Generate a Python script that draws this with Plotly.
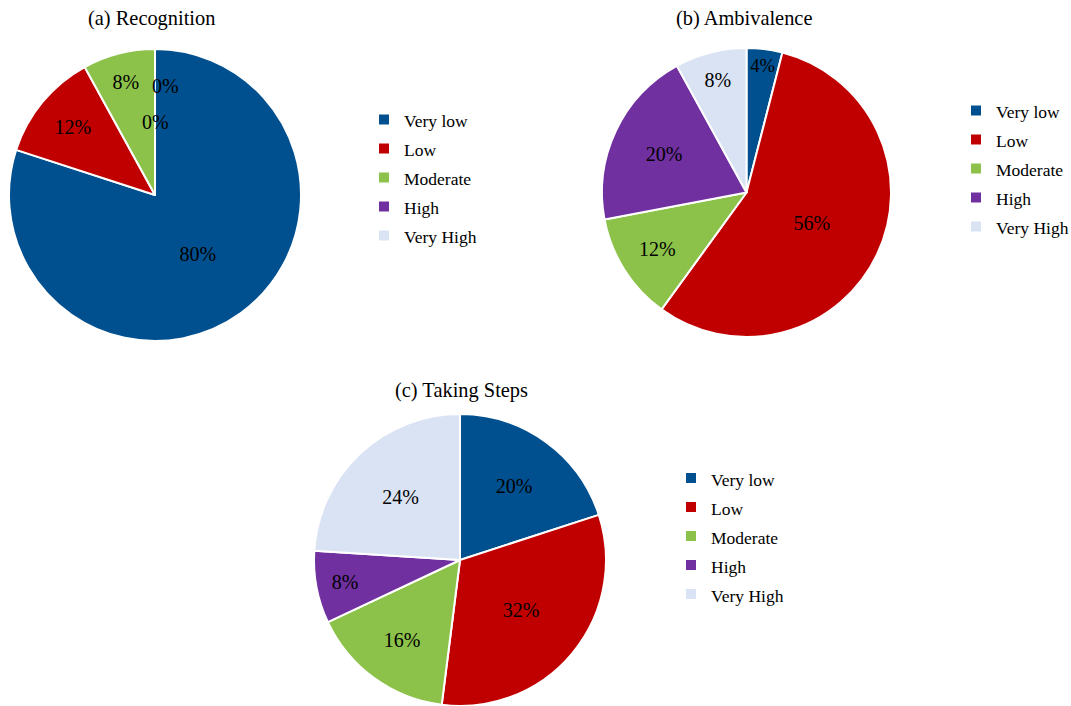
import plotly.graph_objects as go

categories = ["Very low", "Low", "Moderate", "High", "Very High"]
recognition = [80, 12, 8, 0, 0]
ambivalence = [4, 56, 12, 20, 8]
taking_steps = [20, 32, 16, 8, 24]
titles = ["(a) Recognition", "(b) Ambivalence", "(c) Taking Steps"]

colors = ["#00508F", "#C00000", "#8CC24A", "#7030A0", "#DAE3F3"]
FONT = "Liberation Serif, Times New Roman, serif"
W, H = 1071, 706

def px_domain(l, r, t, b):
    return dict(x=[l / W, r / W], y=[1 - b / H, 1 - t / H])

doms = [px_domain(9, 301, 49, 341), px_domain(602, 891, 48, 337), px_domain(314, 606, 414, 706)]
series = [recognition, ambivalence, taking_steps]
legends = ["legend", "legend2", "legend3"]
groups = ["a", "b", "c"]

# legend labels drawn a bit smaller than the legend font so the rows get Excel-like spacing
shown_labels = ["<span style='font-size:17.5px'>%s</span>" % c for c in categories]

fig = go.Figure()
for vals, dom, lg, grp in zip(series, doms, legends, groups):
    fig.add_trace(go.Pie(
        labels=shown_labels, values=vals, sort=False, direction="clockwise", rotation=0,
        marker=dict(colors=colors, line=dict(color="white", width=2)),
        texttemplate="%{percent:.0%}", textposition="inside",
        insidetextorientation="horizontal",
        textfont=dict(family=FONT, size=20, color="black"),
        domain=dom, legend=lg, legendgroup=grp, hoverinfo="value+percent",
    ))

annotations = [
    dict(text=titles[0], x=151.5 / W, y=1 - 18 / H),
    dict(text=titles[1], x=744 / W, y=1 - 18 / H),
    dict(text=titles[2], x=461.5 / W, y=1 - 390 / H),
]
for a in annotations:
    a.update(font=dict(family=FONT, size=20.4, color="black"))

# "0%" labels for zero-valued slices of (a), which Plotly does not draw itself
d = doms[0]
cx = (d["x"][0] + d["x"][1]) / 2
cy = (d["y"][0] + d["y"][1]) / 2
rx = (d["x"][1] - d["x"][0]) / 2
ry = (d["y"][1] - d["y"][0]) / 2
total = sum(recognition)
zero_offsets = [(0.07, 0.75), (0.0, 0.5)]
k = 0
for v in recognition:
    if v == 0 and k < len(zero_offsets):
        ox, oy = zero_offsets[k]
        annotations.append(dict(text="%d%%" % round(100 * v / total), x=cx + ox * rx, y=cy + oy * ry,
                                font=dict(family=FONT, size=20, color="black")))
        k += 1

for a in annotations:
    a.update(xref="paper", yref="paper", showarrow=False, xanchor="center", yanchor="middle")

leg_common = dict(font=dict(family=FONT, size=20, color="black"), bgcolor="rgba(0,0,0,0)",
                  xref="container", yref="container",
                  xanchor="left", yanchor="top", itemclick=False, itemdoubleclick=False)
fig.update_layout(
    width=W, height=H, margin=dict(l=0, r=0, t=0, b=0, autoexpand=False),
    paper_bgcolor="white", plot_bgcolor="white",
    annotations=annotations,
    legend=dict(x=364 / W, y=1 - 100 / H, **leg_common),
    legend2=dict(x=956 / W, y=1 - 91 / H, **leg_common),
    legend3=dict(x=671 / W, y=1 - 458.5 / H, **leg_common),
)
fig.write_html("out.html")
